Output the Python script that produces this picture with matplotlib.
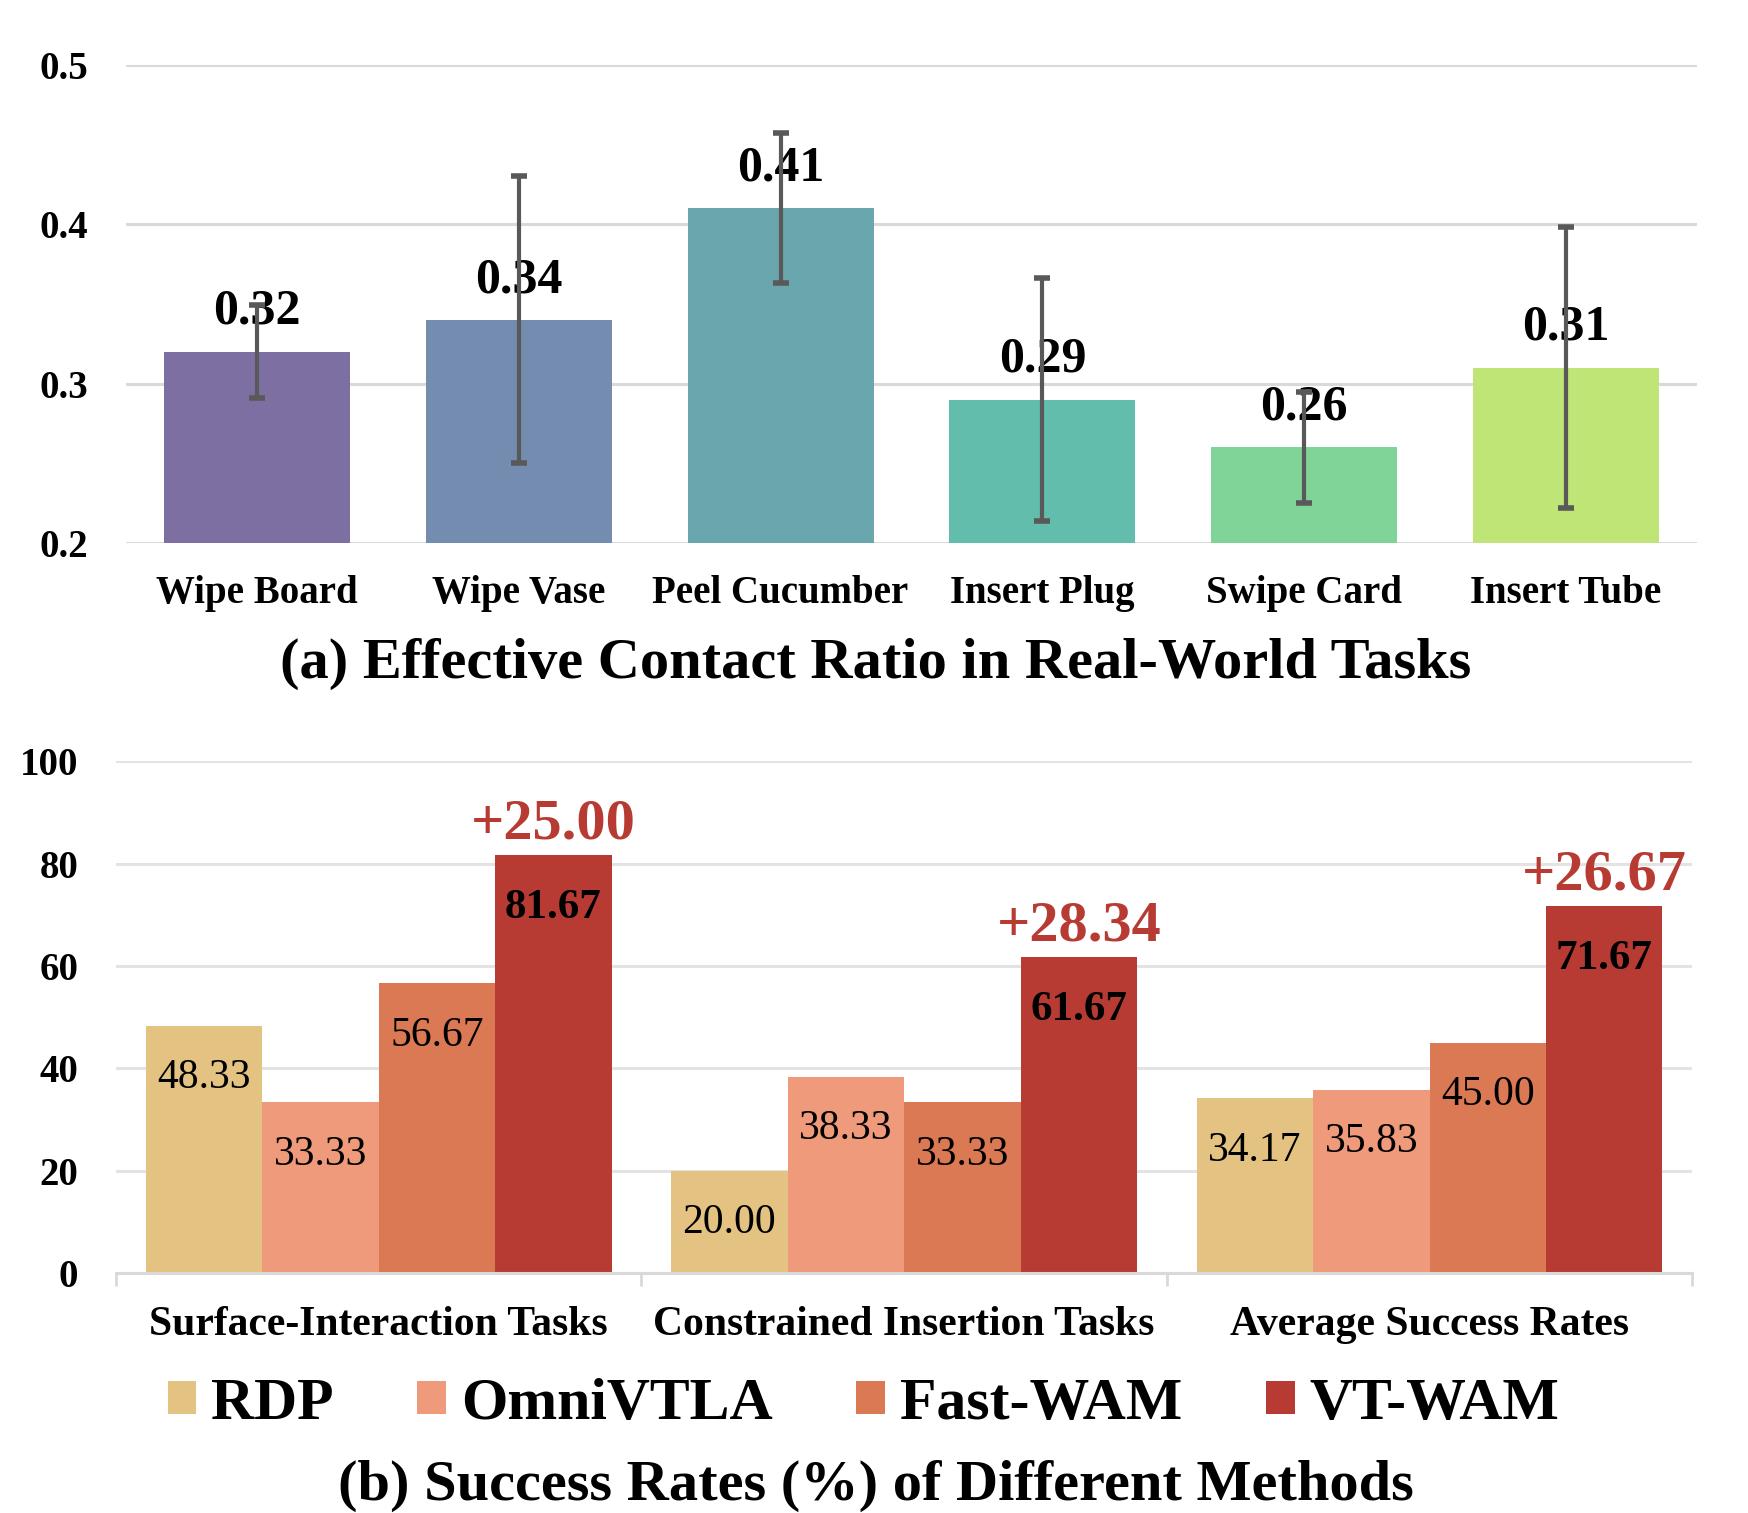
import numpy as np
import matplotlib
matplotlib.use("Agg")
import matplotlib.pyplot as plt

plt.rcParams['font.family'] = ['Liberation Serif', 'DejaVu Serif']

# (a) effective contact ratio
tasks = ["Wipe Board", "Wipe Vase", "Peel Cucumber", "Insert Plug", "Swipe Card", "Insert Tube"]
ratio = [0.32, 0.34, 0.41, 0.29, 0.26, 0.31]
ratio_err = [0.029, 0.090, 0.047, 0.076, 0.035, 0.088]
task_colors = ["#7E6FA3", "#738CB0", "#6AA6AE", "#62BDAC", "#80D498", "#BEE575"]

# (b) success rates
groups = ["Surface-Interaction Tasks", "Constrained Insertion Tasks", "Average Success Rates"]
methods = ["RDP", "OmniVTLA", "Fast-WAM", "VT-WAM"]
rdp = [48.33, 20.00, 34.17]
omnivtla = [33.33, 38.33, 35.83]
fast_wam = [56.67, 33.33, 45.00]
vt_wam = [81.67, 61.67, 71.67]
gains = [25.00, 28.34, 26.67]
method_colors = ["#E4C281", "#EE9A7B", "#DA7953", "#B83B33"]

grid_color = "#D9D9D9"
red = "#B83B33"

fig = plt.figure(figsize=(17.48, 15.13), dpi=100)

# ---------- top panel ----------
ax1 = fig.add_axes([0.0721, 0.6411, 0.8987, 0.3161])
x1 = np.arange(len(tasks))
ax1.bar(x1, ratio, width=0.71, color=task_colors, zorder=2)
ax1.errorbar(x1, ratio, yerr=ratio_err, fmt="none", ecolor="#595959",
             elinewidth=3, capsize=5.5, capthick=4, zorder=5)
for xi, v in zip(x1, ratio):
    ax1.annotate(f"{v:.2f}", (xi, v), xytext=(0, 20), textcoords="offset points",
                 ha="center", va="baseline", fontsize=36, fontweight="bold", zorder=4)
ax1.set_xlim(-0.5, len(tasks) - 0.5)
ax1.set_ylim(0.2, 0.5)
ax1.set_yticks([0.2, 0.3, 0.4, 0.5])
ax1.set_yticklabels(["0.2", "0.3", "0.4", "0.5"])
ax1.set_xticks(x1)
ax1.set_xticklabels(tasks)
ax1.tick_params(axis="y", length=0, pad=27, labelsize=28)
ax1.tick_params(axis="x", length=0, pad=23, labelsize=28)
for lab in ax1.get_xticklabels() + ax1.get_yticklabels():
    lab.set_fontweight("bold")
ax1.grid(axis="y", color=grid_color, linewidth=2.2, zorder=0)
ax1.set_axisbelow(True)
for s in ax1.spines.values():
    s.set_visible(False)

fig.text(0.501, 0.561, "(a) Effective Contact Ratio in Real-World Tasks",
         ha="center", va="center", fontsize=42, fontweight="bold")

# ---------- bottom panel ----------
ax2 = fig.add_axes([0.0663, 0.1586, 0.9018, 0.3382])
x2 = np.arange(len(groups))
w = 0.2217
series = [rdp, omnivtla, fast_wam, vt_wam]
for i, (vals, name, col) in enumerate(zip(series, methods, method_colors)):
    pos = x2 + (i - 1.5) * w
    ax2.bar(pos, vals, width=w, color=col, label=name, zorder=2)
    bold = (name == "VT-WAM")
    for p, v in zip(pos, vals):
        ax2.annotate(f"{v:.2f}", (p, v), xytext=(0, -45), textcoords="offset points",
                     ha="center", va="baseline", fontsize=31 if bold else 30,
                     fontweight="bold" if bold else "normal", color="black", zorder=4)
for p, v, g in zip(x2 + 1.5 * w, vt_wam, gains):
    ax2.annotate(f"+{g:.2f}", (p, v), xytext=(0, 12), textcoords="offset points",
                 ha="center", va="baseline", fontsize=42, fontweight="bold",
                 color=red, zorder=4)

ax2.set_xlim(-0.5, len(groups) - 0.5)
ax2.set_ylim(0, 100)
ax2.set_yticks([0, 20, 40, 60, 80, 100])
ax2.set_xticks(x2)
ax2.set_xticklabels(groups)
ax2.set_xticks(np.arange(len(groups) + 1) - 0.5, minor=True)
ax2.tick_params(axis="y", length=0, pad=27, labelsize=28)
ax2.tick_params(axis="x", which="major", length=0, pad=24, labelsize=30)
ax2.tick_params(axis="x", which="minor", length=9.5, width=2, color=grid_color)
for lab in ax2.get_xticklabels() + ax2.get_yticklabels():
    lab.set_fontweight("bold")
ax2.grid(axis="y", color="#E3E3E3", linewidth=2.2, zorder=0)
ax2.set_axisbelow(True)
for k in ["top", "right", "left"]:
    ax2.spines[k].set_visible(False)
ax2.spines["bottom"].set_color(grid_color)
ax2.spines["bottom"].set_linewidth(2.2)

fig.legend(loc="center", bbox_to_anchor=(0.494, 0.0715), ncol=4, frameon=False,
           prop={"size": 43, "weight": "bold"}, handlelength=0.48, handleheight=0.48,
           handletextpad=0.25, columnspacing=1.4)

fig.text(0.501, 0.018, "(b) Success Rates (%) of Different Methods",
         ha="center", va="center", fontsize=42, fontweight="bold")

fig.savefig("out.png", dpi=100)
